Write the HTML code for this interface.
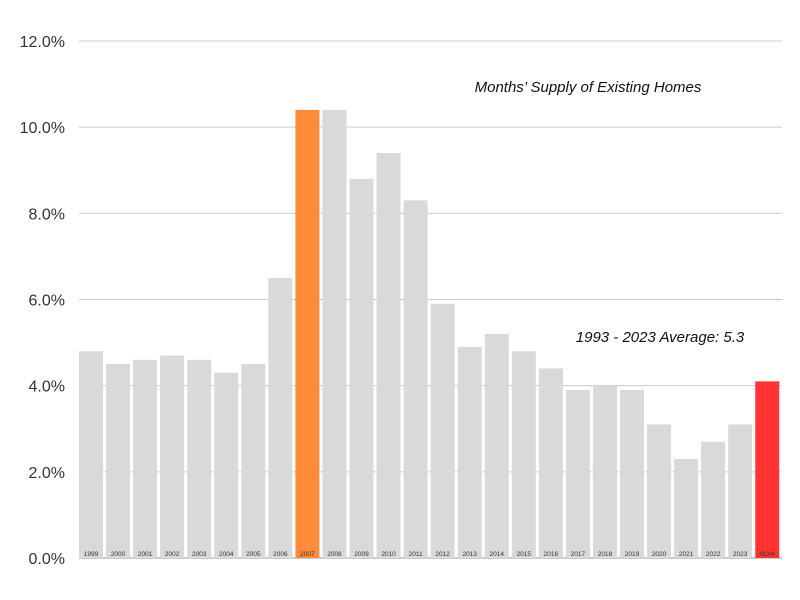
<!DOCTYPE html>
<html><head><meta charset="utf-8"><style>
body{margin:0;background:#fff;}
svg{display:block;font-family:"Liberation Sans",sans-serif;}
</style></head><body>
<svg id="chart" width="800" height="600">
<g id="grid"></g><g id="bars"></g><g id="labels"></g>
<text x="588" y="92" font-size="15" font-style="italic" text-anchor="middle" fill="#111">Months’ Supply of Existing Homes</text>
<text x="660" y="342" font-size="15" font-style="italic" text-anchor="middle" fill="#111">1993 - 2023 Average: 5.3</text>
</svg>
<script>
const categories=["1999","2000","2001","2002","2003","2004","2005","2006","2007","2008","2009","2010","2011","2012","2013","2014","2015","2016","2017","2018","2019","2020","2021","2022","2023","NOW"];
const values=[4.8,4.5,4.6,4.7,4.6,4.3,4.5,6.5,10.4,10.4,8.8,9.4,8.3,5.9,4.9,5.2,4.8,4.4,3.9,4.0,3.9,3.1,2.3,2.7,3.1,4.1];
const ticks=[0,2,4,6,8,10,12];
const tickLabels=["0.0%","2.0%","4.0%","6.0%","8.0%","10.0%","12.0%"];
const NS="http://www.w3.org/2000/svg";
const y0=558,yTop=41,x0=79,slot=27.05,bw=24;
const y=v=>y0-(v/12)*(y0-yTop);
const x=i=>x0+i*slot;
const grid=document.getElementById('grid'),bars=document.getElementById('bars'),labels=document.getElementById('labels');
ticks.forEach((t,i)=>{
 const l=document.createElementNS(NS,'line');
 l.setAttribute('x1',79);l.setAttribute('x2',782);l.setAttribute('y1',y(t));l.setAttribute('y2',y(t));
 l.setAttribute('stroke',t===0?'#999':'#ccc');l.setAttribute('stroke-width',1);
 
 
 grid.appendChild(l);
 const tx=document.createElementNS(NS,'text');
 tx.setAttribute('x',65);tx.setAttribute('y',y(t)+6);tx.setAttribute('text-anchor','end');
 tx.setAttribute('font-size','16');tx.setAttribute('fill','#333');
 tx.textContent=tickLabels[i];
 
 
 grid.appendChild(tx);
});
categories.forEach((c,i)=>{
 const r=document.createElementNS(NS,'rect');
 r.setAttribute('x',x(i));r.setAttribute('y',y(values[i]));r.setAttribute('width',bw);r.setAttribute('height',y0-y(values[i]));
 r.setAttribute('fill',c==='2007'?'#ff8a3a':(c==='NOW'?'#ff3333':'#d9d9d9'));
 
 
 bars.appendChild(r);
 const t=document.createElementNS(NS,'text');
 t.setAttribute('x',x(i)+bw/2);t.setAttribute('y',556);t.setAttribute('text-anchor','middle');
 t.setAttribute('font-size','6.5');t.setAttribute('fill','#333');
 t.textContent=c;
 
 
 labels.appendChild(t);
});
</script>
</body></html>
